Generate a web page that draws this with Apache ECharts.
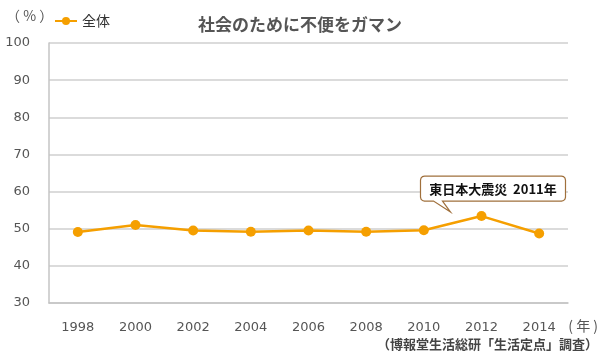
<!DOCTYPE html>
<html>
<head>
<meta charset="utf-8">
<script src="https://cdn.jsdelivr.net/npm/echarts@6/dist/echarts.min.js"></script>
<style>
html,body{margin:0;padding:0;background:#fff;}
#c{width:600px;height:359px;}
</style>
</head>
<body>
<div id="c"></div>
<script>
var titleText = '社会のために不便をガマン';
var seriesName = '全体';
var years = ['1998','2000','2002','2004','2006','2008','2010','2012','2014'];
var values = [49.1, 51.0, 49.5, 49.2, 49.5, 49.2, 49.6, 53.4, 48.7];
var yTicks = [30, 40, 50, 60, 70, 80, 90, 100];
var noteIndex = 7;
var noteText = '東日本大震災  2011年';
var unitY = '（ % ）';
var unitX = '( 年 )';
var sourceText = '（博報堂生活総研「生活定点」調査）';

var CJK = '"Noto Sans CJK JP", sans-serif';
var NUM = '"DejaVu Sans", sans-serif';
var orange = '#f59f00';

var chart = echarts.init(document.getElementById('c'), null, {renderer: 'canvas'});
chart.setOption({
  animation: false,
  backgroundColor: '#fff',
  title: {
    text: titleText,
    left: 'center',
    top: 11,
    textStyle: {fontFamily: CJK, fontSize: 17, fontWeight: 'bold', color: '#555'}
  },
  legend: {
    data: [seriesName],
    left: 49,
    top: 9,
    itemWidth: 22,
    itemHeight: 10,
    itemGap: 6,
    textStyle: {fontFamily: CJK, fontSize: 14, color: '#333'}
  },
  grid: {left: 49, right: 32, top: 43, bottom: 56, containLabel: false},
  xAxis: {
    type: 'category',
    data: years,
    boundaryGap: true,
    axisLine: {show: true, lineStyle: {color: '#c4c4c4', width: 1.5}},
    axisTick: {show: false},
    axisLabel: {margin: 18, fontFamily: NUM, fontSize: 13, color: '#555'}
  },
  yAxis: {
    type: 'value',
    min: yTicks[0],
    max: yTicks[yTicks.length - 1],
    interval: 10,
    axisLine: {show: true, lineStyle: {color: '#c4c4c4', width: 1.5}},
    axisTick: {show: false},
    splitLine: {show: true, lineStyle: {color: '#cfcfcf', width: 1.5}},
    axisLabel: {margin: 19, fontFamily: NUM, fontSize: 13, color: '#555'}
  },
  series: [{
    name: seriesName,
    type: 'line',
    data: values,
    symbol: 'circle',
    symbolSize: 10,
    lineStyle: {color: orange, width: 2.5},
    itemStyle: {color: orange}
  }]
});

// Callout anchored to the 2011 point through the chart's own scales
var p = chart.convertToPixel({seriesIndex: 0}, [noteIndex, values[noteIndex]]);
var bx = p[0] - 61, by = p[1] - 40, bw = 145, bh = 25;
function corner(cx, cy, a0) {
  var out = [];
  for (var k = 0; k <= 3; k++) {
    var a = (a0 + k * 30) * Math.PI / 180;
    out.push([cx + 4 * Math.cos(a), cy + 4 * Math.sin(a)]);
  }
  return out;
}
var poly = [].concat(
  corner(bx + 4, by + 4, 180),
  corner(bx + bw - 4, by + 4, 270),
  corner(bx + bw - 4, by + bh - 4, 0),
  [[bx + 22, by + bh], [bx + 30, by + bh + 11], [bx + 13, by + bh]],
  corner(bx + 4, by + bh - 4, 90)
);
chart.setOption({
  graphic: [
    {type: 'text', left: 6, top: 9, style: {text: unitY, font: '14px ' + CJK, fill: '#555'}},
    {type: 'text', right: 2, top: 319, style: {text: unitX, font: '14px ' + CJK, fill: '#555'}},
    {type: 'text', right: 2, top: 338, style: {text: sourceText, font: 'bold 13px ' + CJK, fill: '#444'}},
    {type: 'polygon', shape: {points: poly}, style: {fill: '#fff', stroke: '#a0703c', lineWidth: 1.2}, z: 10},
    {type: 'text', x: bx + bw / 2, y: by + bh / 2 + 0.5, style: {text: noteText, font: 'bold 13px ' + CJK, fill: '#111', align: 'center', verticalAlign: 'middle'}, z: 11}
  ]
});
</script>
</body>
</html>
